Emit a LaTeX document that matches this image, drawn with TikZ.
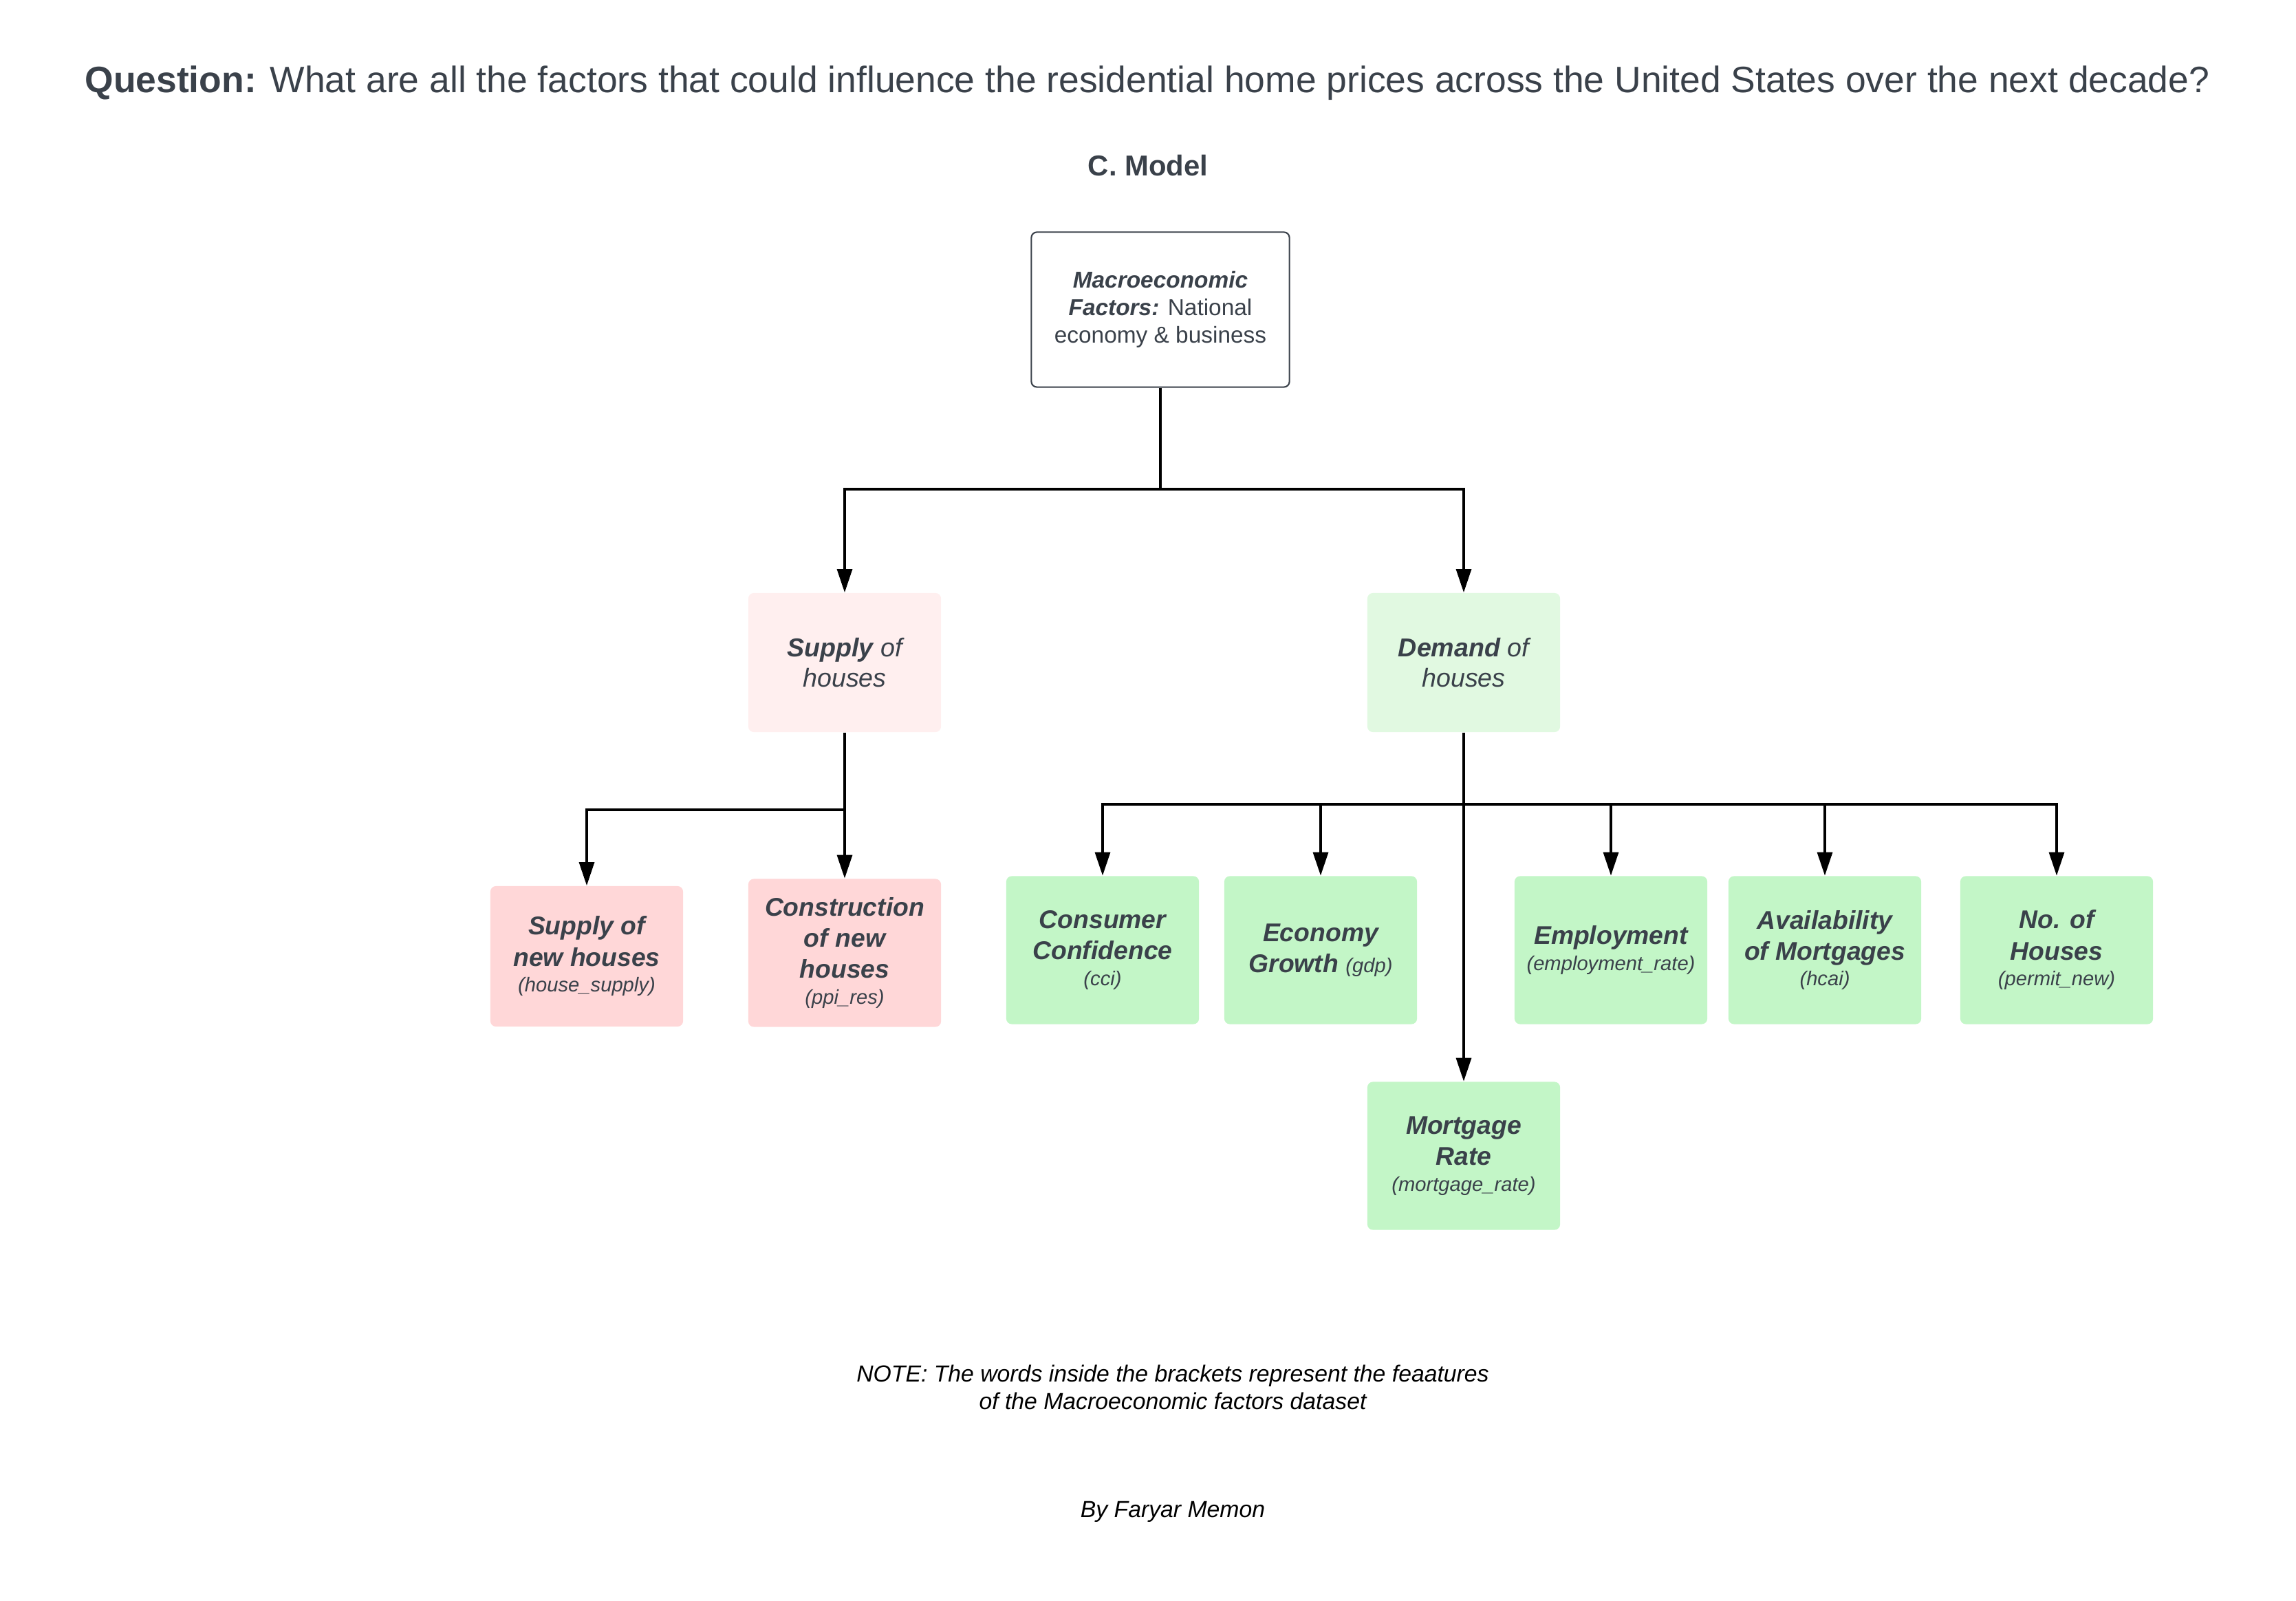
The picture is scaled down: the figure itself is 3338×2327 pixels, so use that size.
\documentclass[tikz,border=0pt]{standalone}
\usepackage{fontspec}
\setmainfont{Liberation Sans}
\usetikzlibrary{arrows.meta}
\definecolor{ink}{HTML}{3A414A}
\definecolor{supplylight}{HTML}{FFEFEF}
\definecolor{demandlight}{HTML}{E1F9E1}
\definecolor{supplyfill}{HTML}{FFD7D8}
\definecolor{demandfill}{HTML}{C3F6C7}
\newcommand{\feat}[1]{{\fontsize{8.3}{10}\selectfont\mdseries(#1)}}
\tikzset{
  topbox/.style={draw=ink, line width=0.6pt, rounded corners=0.08cm, minimum width=3.75cm, minimum height=2.25cm, align=center, text=ink, font=\fontsize{9.5}{11.4}\selectfont},
  midbox/.style={rounded corners=0.08cm, minimum width=2.8cm, minimum height=2.02cm, align=center, text=ink, font=\fontsize{10.7}{12.5}\selectfont\itshape},
  factor/.style={rounded corners=0.08cm, minimum width=2.8cm, minimum height=2.15cm, align=center, text=ink, font=\fontsize{10.6}{12.8}\selectfont\bfseries\itshape},
  link/.style={line width=1.1pt, -{Triangle[length=9.7pt,width=6.2pt]}},
}
\begin{document}
\begin{tikzpicture}[x=0.01cm, y=-0.01cm]
\useasboundingbox (0,0) rectangle (3338,2327);
\node [anchor=base, text=ink, font=\fontsize{15.2}{18}\selectfont] (title) at (1668,134) {\textbf{Question:} What are all the factors that could influence the residential home prices across the United States over the next decade?};
\node [anchor=base, text=ink, font=\fontsize{11.9}{14}\selectfont\bfseries] (model) at (1669,255) {C. Model};
\node [topbox] (macro) at (1687,450) {\textbf{\textit{Macroeconomic}}\\\textbf{\textit{Factors:}} National\\economy \& business};
\node [midbox, fill=supplylight] (supply) at (1228,963) {\textbf{Supply} of\\houses};
\node [midbox, fill=demandlight] (demand) at (2128,963) {\textbf{Demand} of\\houses};
\node [factor, fill=supplyfill, minimum height=2.04cm] (newhouses) at (853,1390) {Supply of\\new houses\\[-2pt]\feat{house\_supply}};
\node [factor, fill=supplyfill] (construction) at (1228,1385) {Construction\\of new\\houses\\[-2pt]\feat{ppi\_res}};
\node [factor, fill=demandfill] (confidence) at (1603,1381) {Consumer\\Confidence\\[-2pt]\feat{cci}};
\node [factor, fill=demandfill] (growth) at (1920,1381) {Economy\\Growth \feat{gdp}};
\node [factor, fill=demandfill] (employment) at (2342,1381) {Employment\\[-2pt]\feat{employment\_rate}};
\node [factor, fill=demandfill] (mortgages) at (2653,1381) {Availability\\of Mortgages\\[-2pt]\feat{hcai}};
\node [factor, fill=demandfill] (houses) at (2990,1381) {No. of\\Houses\\[-2pt]\feat{permit\_new}};
\node [factor, fill=demandfill] (mortgagerate) at (2128,1680) {Mortgage\\Rate\\[-2pt]\feat{mortgage\_rate}};
\coordinate (topfork) at (1687,711);
\coordinate (supplyfork) at (1228,1177);
\coordinate (demandfork) at (2128,1169);
\draw [link] (macro.south) -- (topfork) -| (supply.north);
\draw [link] (topfork) -| (demand.north);
\draw [link] (supply.south) -- (construction.north);
\draw [link] (supplyfork) -| (newhouses.north);
\draw [link] (demand.south) -- (mortgagerate.north);
\foreach \f in {confidence,growth,employment,mortgages,houses}
  \draw [link] (demandfork) -| (\f.north);
\node [align=center, font=\fontsize{9.6}{11.4}\selectfont\itshape] (note) at (1705,2016) {NOTE: The words inside the brackets represent the feaatures\\of the Macroeconomic factors dataset};
\node [anchor=base, font=\fontsize{9.6}{11.4}\selectfont\itshape] (author) at (1705,2205) {By Faryar Memon};
\end{tikzpicture}
\end{document}
